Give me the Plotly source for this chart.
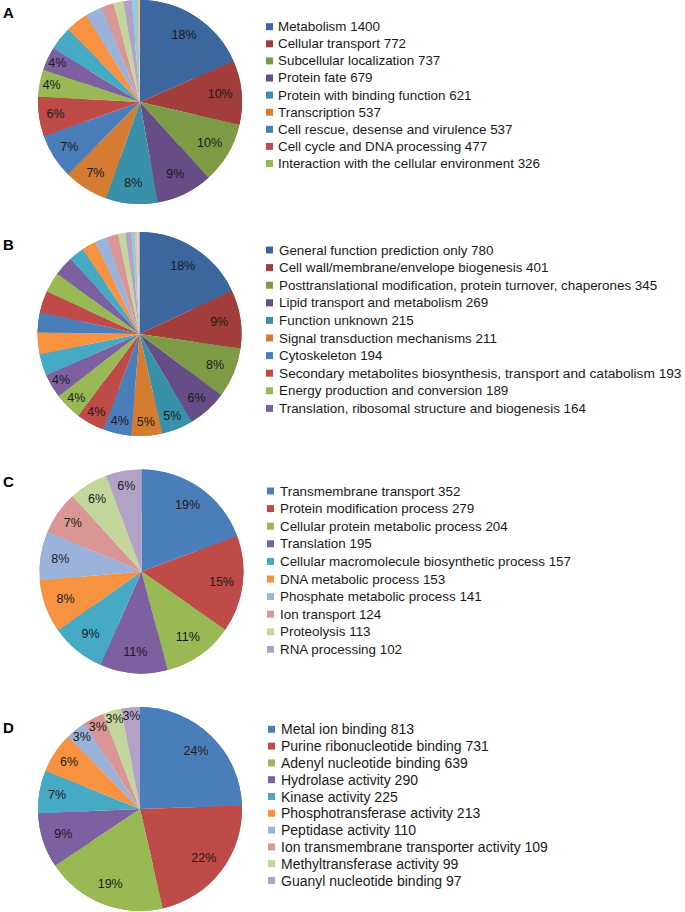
import plotly.graph_objects as go

W, H = 685, 912
FONT = "Arial, 'Liberation Sans', sans-serif"

# ---------------- data ----------------
a_labels = ["Metabolism", "Cellular transport", "Subcellular localization", "Protein fate",
            "Protein with binding function", "Transcription", "Cell rescue, desense and virulence",
            "Cell cycle and DNA processing", "Interaction with the cellular environment"]
a_values = [1400, 772, 737, 679, 621, 537, 537, 477, 326]
a_other_values = [280, 287, 270, 209, 144, 122, 100, 72, 25]

b_labels = ["General function prediction only", "Cell wall/membrane/envelope biogenesis",
            "Posttranslational modification, protein turnover, chaperones",
            "Lipid transport and metabolism", "Function unknown", "Signal transduction mechanisms",
            "Cytoskeleton", "Secondary metabolites biosynthesis, transport and catabolism",
            "Energy production and conversion", "Translation, ribosomal structure and biogenesis"]
b_values = [780, 401, 345, 269, 215, 211, 194, 193, 189, 164]
b_other_values = [148, 150, 137, 148, 140, 134, 106, 96, 85, 78, 51, 39, 26, 17, 14]

c_labels = ["Transmembrane transport", "Protein modification process",
            "Cellular protein metabolic process", "Translation",
            "Cellular macromolecule biosynthetic process", "DNA metabolic process",
            "Phosphate metabolic process", "Ion transport", "Proteolysis", "RNA processing"]
c_values = [352, 279, 204, 195, 157, 153, 141, 124, 113, 102]

d_labels = ["Metal ion binding", "Purine ribonucleotide binding", "Adenyl nucleotide binding",
            "Hydrolase activity", "Kinase activity", "Phosphotransferase activity",
            "Peptidase activity", "Ion transmembrane transporter activity",
            "Methyltransferase activity", "Guanyl nucleotide binding"]
d_values = [813, 731, 639, 290, 225, 213, 110, 109, 99, 97]

panel_letters = ["A", "B", "C", "D"]

# ---------------- styles ----------------
dark = ['#3C679E', '#A13D3A', '#7D9A45', '#664D86', '#3891A8', '#D57C33']
normal = ['#4A7EBB', '#BE4B48', '#98B954', '#7D60A0', '#46AAC5', '#F69240']
light = ['#9BB3DB', '#DA9694', '#C3D69B', '#B3A2C7', '#93CDDD', '#FAC090']
extra = ['#C9D4E8']

panels = [
    dict(labels=a_labels, values=a_values, others=a_other_values,
         colors=dark + normal + light, n_text=10,
         center=(140, 102), r=102,
         leg_sq_x=266, leg_tx=276, leg_y0=26.7, leg_dy=17.1, leg_fs=13.4,
         letter_y=12),
    dict(labels=b_labels, values=b_values, others=b_other_values,
         colors=dark + normal + normal + light + extra, n_text=10,
         center=(139.5, 334), r=102,
         leg_sq_x=266, leg_tx=277, leg_y0=250, leg_dy=17.6, leg_fs=13.4,
         letter_y=245),
    dict(labels=c_labels, values=c_values, others=[],
         colors=normal + light[:4], n_text=10,
         center=(141.5, 571.5), r=102,
         leg_sq_x=267, leg_tx=278, leg_y0=491, leg_dy=17.6, leg_fs=13.4,
         letter_y=481),
    dict(labels=d_labels, values=d_values, others=[],
         colors=normal + light[:4], n_text=10,
         center=(140, 809), r=102,
         leg_sq_x=268, leg_tx=279, leg_y0=729.3, leg_dy=16.8, leg_fs=14,
         letter_y=727),
]

fig = go.Figure()
shapes = []
annotations = []

for p, letter in zip(panels, panel_letters):
    vals = p["values"] + p["others"]
    labs = p["labels"] + [f"{letter} other {k + 1}" for k in range(len(p["others"]))]
    n = len(vals)
    templ = ["%{percent:.0%}" if i < p["n_text"] else "" for i in range(n)]
    cx, cy = p["center"]
    r = p["r"]
    dom = dict(x=[(cx - r) / W, (cx + r) / W], y=[1 - (cy + r) / H, 1 - (cy - r) / H])
    # full pie (colour)
    fig.add_trace(go.Pie(
        labels=labs, values=vals, sort=False, direction="clockwise", rotation=0,
        marker=dict(colors=p["colors"][:n], line=dict(width=0)),
        textinfo="none", hoverinfo="label+value+percent", showlegend=False,
        domain=dom,
    ))
    # outer ring overlay carrying the percentage labels (places them near the rim)
    fig.add_trace(go.Pie(
        labels=labs, values=vals, sort=False, direction="clockwise", rotation=0,
        hole=0.58,
        marker=dict(colors=p["colors"][:n], line=dict(width=0)),
        texttemplate=templ, textposition="inside", insidetextorientation="horizontal",
        textfont=dict(family=FONT, size=12.5, color="#1a1a1a"),
        hoverinfo="skip", showlegend=False,
        domain=dom,
    ))
    # legend
    for i, (lab, val) in enumerate(zip(p["labels"], p["values"])):
        y = p["leg_y0"] + i * p["leg_dy"]
        sx = p["leg_sq_x"]
        shapes.append(dict(type="rect", xref="paper", yref="paper",
                           x0=sx / W, x1=(sx + 7) / W,
                           y0=1 - (y + 3.5) / H, y1=1 - (y - 3.5) / H,
                           fillcolor=p["colors"][i], line=dict(width=0)))
        fs = p["leg_fs"]
        if lab.startswith("Secondary"):
            fs = 13.7
        annotations.append(dict(text=f"{lab} {val}", xref="paper", yref="paper",
                                x=p["leg_tx"] / W, y=1 - y / H,
                                xanchor="left", yanchor="middle", showarrow=False,
                                font=dict(family=FONT, size=fs, color="#1a1a1a")))
    annotations.append(dict(text=f"<b>{letter}</b>", xref="paper", yref="paper",
                            x=1 / W, y=1 - p["letter_y"] / H, xanchor="left", yanchor="middle",
                            showarrow=False, font=dict(family=FONT, size=15, color="#000000")))

fig.update_layout(
    width=W, height=H, margin=dict(l=0, r=0, t=0, b=0),
    paper_bgcolor="white", plot_bgcolor="white",
    shapes=shapes, annotations=annotations,
    uniformtext=dict(minsize=12.5, mode="show"),
    font=dict(family=FONT),
)

fig.write_html("out.html", config={"displayModeBar": False},
               post_script="document.body.style.margin='0';")
